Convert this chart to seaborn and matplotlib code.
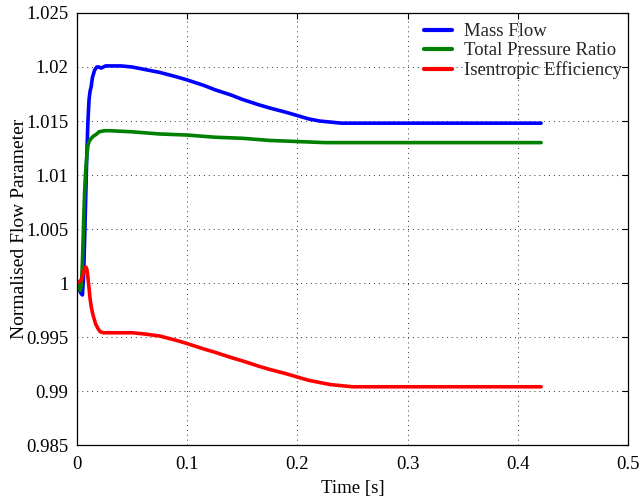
import matplotlib
matplotlib.use("Agg")
import matplotlib.pyplot as plt
import seaborn as sns
import pandas as pd

# Mass Flow
t_mass = [0.0, 0.002, 0.004, 0.005, 0.006, 0.007, 0.008, 0.009, 0.010, 0.011, 0.012,
          0.013, 0.014, 0.016, 0.018, 0.020, 0.022, 0.026, 0.030, 0.040, 0.050, 0.060,
          0.075, 0.090, 0.100, 0.115, 0.125, 0.140, 0.150, 0.165, 0.175, 0.190, 0.200,
          0.210, 0.220, 0.230, 0.240, 0.250, 0.260, 0.280, 0.300, 0.350, 0.400, 0.421]
v_mass = [1.0000, 0.9994, 0.9990, 0.9989, 1.0005, 1.0040, 1.0080, 1.0120, 1.0150, 1.0170, 1.0178,
          1.0182, 1.0190, 1.0197, 1.0200, 1.0200, 1.0199, 1.0201, 1.0201, 1.0201, 1.0200, 1.0198,
          1.0195, 1.0191, 1.0188, 1.0183, 1.0179, 1.0174, 1.0170, 1.0165, 1.0162, 1.0158, 1.0155,
          1.0152, 1.0150, 1.0149, 1.0148, 1.0148, 1.0148, 1.0148, 1.0148, 1.0148, 1.0148, 1.0148]

# Total Pressure Ratio
t_press = [0.0, 0.002, 0.003, 0.004, 0.005, 0.006, 0.007, 0.008, 0.009, 0.010, 0.011,
           0.013, 0.015, 0.018, 0.020, 0.025, 0.030, 0.050, 0.075, 0.100, 0.125, 0.150,
           0.175, 0.200, 0.225, 0.250, 0.300, 0.350, 0.400, 0.421]
v_press = [1.0000, 0.9995, 0.9993, 0.9998, 1.0020, 1.0055, 1.0085, 1.0105, 1.0118, 1.0127, 1.0131,
           1.0134, 1.0136, 1.0138, 1.0140, 1.0141, 1.0141, 1.0140, 1.0138, 1.0137, 1.0135, 1.0134,
           1.0132, 1.0131, 1.0130, 1.0130, 1.0130, 1.0130, 1.0130, 1.0130]

# Isentropic Efficiency
t_eff = [0.0, 0.002, 0.004, 0.006, 0.007, 0.008, 0.009, 0.010, 0.011, 0.012, 0.013,
         0.014, 0.015, 0.017, 0.019, 0.021, 0.024, 0.030, 0.040, 0.050, 0.060, 0.075,
         0.090, 0.100, 0.115, 0.125, 0.140, 0.150, 0.165, 0.175, 0.190, 0.200, 0.210,
         0.220, 0.230, 0.240, 0.250, 0.260, 0.300, 0.350, 0.400, 0.421]
v_eff = [1.0000, 1.0001, 1.0003, 1.0010, 1.0014, 1.0015, 1.0013, 1.0005, 0.9995, 0.9985, 0.9978,
         0.9973, 0.9969, 0.9962, 0.9958, 0.9955, 0.9954, 0.9954, 0.9954, 0.9954, 0.9953, 0.9951,
         0.9947, 0.9944, 0.9939, 0.9936, 0.9931, 0.9928, 0.9923, 0.9920, 0.9916, 0.9913, 0.9910,
         0.9908, 0.9906, 0.9905, 0.9904, 0.9904, 0.9904, 0.9904, 0.9904, 0.9904]

series_names = ["Mass Flow", "Total Pressure Ratio", "Isentropic Efficiency"]
series_colors = ["#0000ff", "#008000", "#ff0000"]
x_ticks = [0, 0.1, 0.2, 0.3, 0.4, 0.5]
x_tick_labels = ["0", "0.1", "0.2", "0.3", "0.4", "0.5"]
y_ticks = [0.985, 0.99, 0.995, 1.0, 1.005, 1.01, 1.015, 1.02, 1.025]
y_tick_labels = ["0.985", "0.99", "0.995", "1", "1.005", "1.01", "1.015", "1.02", "1.025"]

frames = []
for name, t, v in zip(series_names, [t_mass, t_press, t_eff], [v_mass, v_press, v_eff]):
    frames.append(pd.DataFrame({"Time": t, "Value": v, "Series": name}))
df = pd.concat(frames, ignore_index=True)

sns.set_style("white")
plt.rcParams["font.family"] = ["Liberation Serif", "DejaVu Serif"]

fig = plt.figure(figsize=(6.41, 4.99), dpi=100)
ax = fig.add_axes([0.120, 0.108, 0.860, 0.866])

sns.lineplot(data=df, x="Time", y="Value", hue="Series", hue_order=series_names,
             palette=series_colors, linewidth=2.6, ax=ax, sort=False, estimator=None)

ax.set_xlim(0, 0.5)
ax.set_ylim(0.985, 1.025)
ax.set_xticks(x_ticks)
ax.set_xticklabels(x_tick_labels)
ax.set_yticks(y_ticks)
ax.set_yticklabels(y_tick_labels)
ax.tick_params(direction="in", top=True, right=True, length=4, width=0.8,
               labelsize=13.5, colors="black")
ax.tick_params(axis="x", pad=8)
ax.tick_params(axis="y", pad=6)
ax.grid(True, linestyle=(0, (1, 4)), color="black", linewidth=0.7, alpha=0.8)
for s in ax.spines.values():
    s.set_color("black")
    s.set_linewidth(0.9)

ax.set_xlabel("Time [s]", fontsize=13.5, color="black", labelpad=5)
ax.set_ylabel("Normalised Flow Parameter", fontsize=14, color="black")
ax.yaxis.set_label_coords(-0.088, 0.5)

leg = ax.legend(loc="upper right", bbox_to_anchor=(1.008, 1.0), frameon=False,
                fontsize=13.5, handlelength=1.5, handletextpad=0.65,
                borderaxespad=0.15, borderpad=0.4, labelspacing=0.1)
for line in leg.get_lines():
    line.set_linewidth(3)

fig.savefig("out.png", dpi=100)
